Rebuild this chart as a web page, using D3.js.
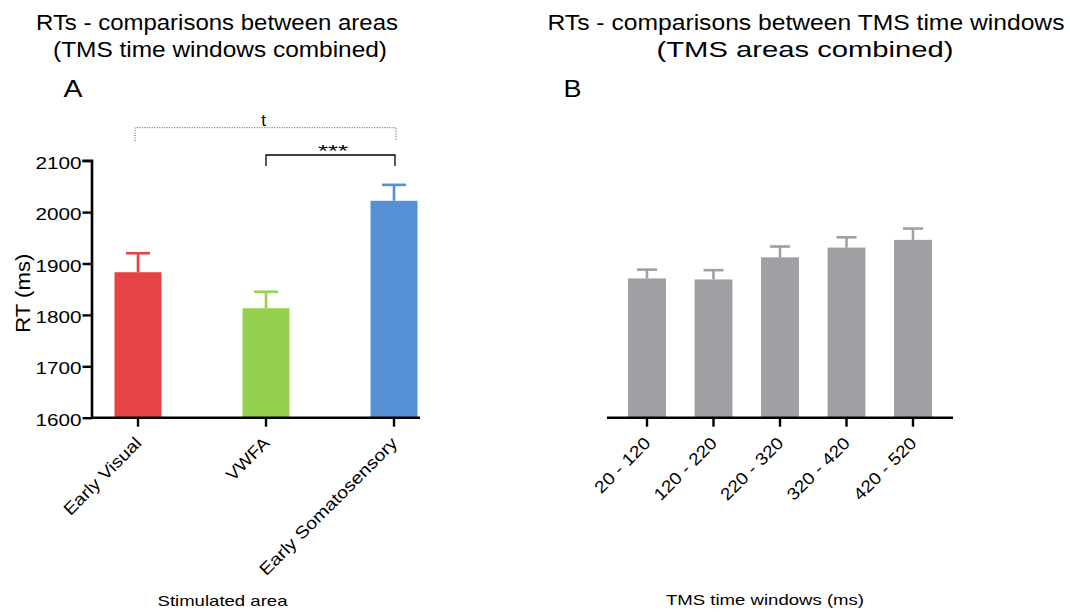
<!DOCTYPE html>
<html><head><meta charset="utf-8">
<script src="https://cdn.jsdelivr.net/npm/d3@7"></script>
<style>body{margin:0;background:#fff}svg{display:block}text{font-family:"Liberation Sans",Arial,sans-serif;fill:#000}</style>
</head><body>
<script>
const areaCats = ["Early Visual", "VWFA", "Early Somatosensory"];
const areaMeans = [1883, 1813, 2022];
const areaErr = [37, 32, 31];
const areaColors = ["#e54345", "#93d14f", "#558fd6"];
const windowCats = ["20 - 120", "120 - 220", "220 - 320", "320 - 420", "420 - 520"];
const windowMeans = [1871, 1869, 1912, 1931, 1946];
const windowErr = [17, 18, 21, 20, 22];
const yTicks = [1600, 1700, 1800, 1900, 2000, 2100];

const W = 1070, H = 612;
const svg = d3.select("body").append("svg").attr("width", W).attr("height", H);
const FONT = "Liberation Sans, Arial, sans-serif";

const y = d3.scaleLinear().domain([1600, 2100]).range([417.7, 160.7]);

function txt(x, yy, s, size, len, adj) {
  const t = svg.append("text").attr("x", x).attr("y", yy).attr("font-size", size)
    .attr("text-anchor", "middle").text(s);
  if (len) t.attr("textLength", len).attr("lengthAdjust", adj || "spacingAndGlyphs");
  return t;
}

// Titles
txt(217, 30, "RTs - comparisons between areas", 22.5, 362);
txt(220, 57, "(TMS time windows combined)", 22.5, 334);
txt(806, 30, "RTs - comparisons between TMS time windows", 22.5, 517);
txt(805, 57, "(TMS areas combined)", 22.5, 297);
txt(73, 97, "A", 23, 19);
txt(572.5, 97, "B", 23, 18);

// label lengths along text direction (rotated tick labels)
const areaLabelLen = {"Early Visual": 102, "VWFA": 53, "Early Somatosensory": 187};
const windowLabelLen = {"20 - 120": 71, "120 - 220": 81, "220 - 320": 81, "320 - 420": 81, "420 - 520": 81};

function styleXTicks(g, lens) {
  g.selectAll(".tick line").attr("stroke-width", 2.4);
  g.selectAll(".tick text").attr("font-size", 17).attr("font-family", FONT)
    .attr("text-anchor", "end").attr("x", 0).attr("y", 0).attr("dy", 0)
    .attr("transform", "translate(4.5,26.5) rotate(-45)")
    .attr("textLength", d => lens[d]).attr("lengthAdjust", "spacingAndGlyphs");
}

// Panel A
const xA = d3.scaleBand().domain(areaCats).range([74, 458]).paddingInner(0.633).paddingOuter(0.3165);
const gA = svg.append("g");
gA.selectAll("rect").data(areaCats).join("rect")
  .attr("x", d => xA(d)).attr("width", xA.bandwidth())
  .attr("y", (d, i) => y(areaMeans[i])).attr("height", (d, i) => y(1600) - y(areaMeans[i]))
  .attr("fill", (d, i) => areaColors[i]);
areaCats.forEach((d, i) => {
  const cx = xA(d) + xA.bandwidth() / 2;
  gA.append("line").attr("x1", cx).attr("x2", cx).attr("y1", y(areaMeans[i])).attr("y2", y(areaMeans[i] + areaErr[i]))
    .attr("stroke", areaColors[i]).attr("stroke-width", 2.6);
  gA.append("line").attr("x1", cx - 12).attr("x2", cx + 12).attr("y1", y(areaMeans[i] + areaErr[i])).attr("y2", y(areaMeans[i] + areaErr[i]))
    .attr("stroke", areaColors[i]).attr("stroke-width", 2.6);
});
// y axis A
const yAx = svg.append("g").attr("transform", "translate(92,0)")
  .call(d3.axisLeft(y).tickValues(yTicks).tickSize(9.5).tickPadding(1).tickFormat(d3.format("d")));
yAx.select(".domain").attr("stroke-width", 2.6).attr("d", `M-9.5,${y(2100)}H0V${y(1600)}`);
yAx.selectAll(".tick line").attr("stroke-width", 2.4);
yAx.selectAll(".tick text").attr("font-size", 17).attr("font-family", FONT).attr("dy", 0).attr("y", 7.5)
  .attr("textLength", 46).attr("lengthAdjust", "spacingAndGlyphs");
// x axis A
const xAx = svg.append("g").attr("transform", `translate(0,${y(1600)})`)
  .call(d3.axisBottom(xA).tickSize(9));
xAx.select(".domain").attr("stroke-width", 2.6).attr("d", `M91,0H420`);
styleXTicks(xAx, areaLabelLen);
// y label
svg.append("text").attr("transform", `translate(30,${y(1850) + 4}) rotate(-90)`).attr("text-anchor", "middle")
  .attr("font-size", 20.5).attr("textLength", 79).attr("lengthAdjust", "spacingAndGlyphs").text("RT (ms)");
txt(222.5, 606, "Stimulated area", 15, 130);

// significance brackets
const cEV = xA("Early Visual") + xA.bandwidth() / 2;
const cVW = xA("VWFA") + xA.bandwidth() / 2;
const cES = xA("Early Somatosensory") + xA.bandwidth() / 2;
svg.append("path").attr("d", `M${cEV - 3},141V127.7H${cES + 2}V141`).attr("fill", "none")
  .attr("stroke", "#555").attr("stroke-width", 1).attr("stroke-dasharray", "1,1.5");
txt(263.5, 126, "t", 17);
svg.append("path").attr("d", `M${cVW},166V155H${cES + 1}V166`).attr("fill", "none")
  .attr("stroke", "#000").attr("stroke-width", 1.3);
txt(333, 157, "***", 16, 30);

// Panel B
const xB = d3.scaleBand().domain(windowCats).range([613.75, 946.25]).paddingInner(0.43).paddingOuter(0.215);
const gray = "#a09fa4";
const gB = svg.append("g");
gB.selectAll("rect").data(windowCats).join("rect")
  .attr("x", d => xB(d)).attr("width", xB.bandwidth())
  .attr("y", (d, i) => y(windowMeans[i])).attr("height", (d, i) => y(1600) - y(windowMeans[i]))
  .attr("fill", gray);
windowCats.forEach((d, i) => {
  const cx = xB(d) + xB.bandwidth() / 2;
  gB.append("line").attr("x1", cx).attr("x2", cx).attr("y1", y(windowMeans[i])).attr("y2", y(windowMeans[i] + windowErr[i]))
    .attr("stroke", gray).attr("stroke-width", 2.6);
  gB.append("line").attr("x1", cx - 10).attr("x2", cx + 10).attr("y1", y(windowMeans[i] + windowErr[i])).attr("y2", y(windowMeans[i] + windowErr[i]))
    .attr("stroke", gray).attr("stroke-width", 2.6);
});
const xBx = svg.append("g").attr("transform", `translate(0,${y(1600)})`)
  .call(d3.axisBottom(xB).tickSize(9));
xBx.select(".domain").attr("stroke-width", 2.6).attr("d", `M607,0H953`);
styleXTicks(xBx, windowLabelLen);
txt(765, 605, "TMS time windows (ms)", 15, 198);
</script>
</body></html>
